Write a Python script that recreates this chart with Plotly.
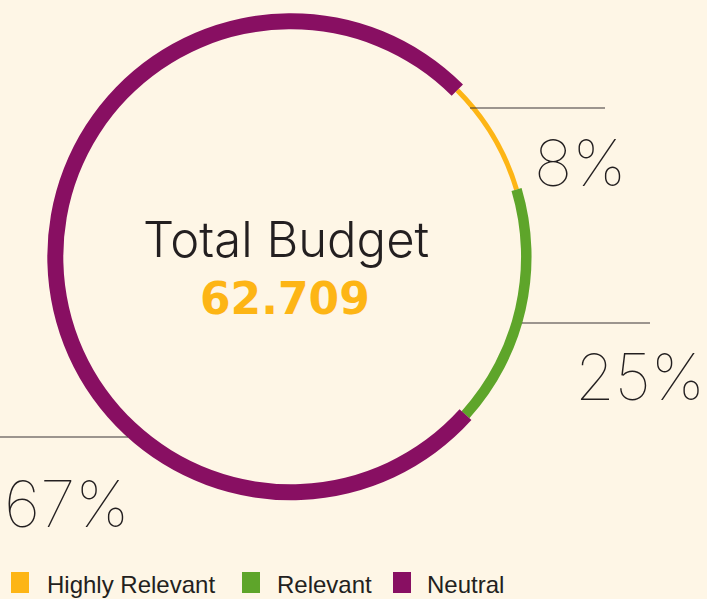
import plotly.graph_objects as go

# data
labels = ["Highly Relevant", "Relevant", "Neutral"]
pct_text = ["8%", "25%", "67%"]
# arc sizes as the ring is actually drawn (the printed percentages do not match the arcs)
arc_share = [7.9, 16.3, 75.8]
colors = ["#FDB515", "#5EA52A", "#880F62"]
total_label = "Total Budget"
total_value = "62.709"

W, H = 707, 599
BG = "#FEF6E6"
INK = "#231F20"

# ring geometry (pixels)
cx, cy, r_mid = 290.8, 256.7, 235.5
stroke = [5, 10.5, 16]


def px(x):
    return x / W


def py(y):
    return 1 - y / H


fig = go.Figure()

# one pie per segment so each arc can have its own stroke width
for k in range(len(labels)):
    r_out = r_mid + stroke[k] / 2
    r_in = r_mid - stroke[k] / 2
    seg_colors = [colors[i] if i == k else "rgba(0,0,0,0)" for i in range(len(labels))]
    fig.add_trace(go.Pie(
        labels=labels,
        values=arc_share,
        sort=False,
        direction="clockwise",
        rotation=45,
        hole=r_in / r_out,
        marker=dict(colors=seg_colors, line=dict(width=0)),
        textinfo="none",
        hoverinfo="skip",
        showlegend=False,
        domain=dict(x=[px(cx - r_out), px(cx + r_out)],
                    y=[py(cy + r_out), py(cy - r_out)]),
    ))

# leader lines and percentage labels
leaders = [(470, 605, 108), (522, 650, 323), (0, 128, 437)]
label_pos = [(532, 162, "left"), (707, 376, "right"), (2, 503, "left")]
shapes = []
annotations = []
for (x0, x1, y), (lx, ly, anchor), t in zip(leaders, label_pos, pct_text):
    shapes.append(dict(type="line", xref="paper", yref="paper",
                       x0=px(x0), x1=px(x1), y0=py(y), y1=py(y),
                       line=dict(color="#3a3536", width=1.2)))
    annotations.append(dict(text=t, x=px(lx), y=py(ly), xref="paper", yref="paper",
                            xanchor=anchor, yanchor="middle", showarrow=False,
                            font=dict(family="Inter", size=64, color=INK, weight=100)))

# centre text
annotations.append(dict(text=total_label, x=px(286), y=py(240), xref="paper", yref="paper",
                        xanchor="center", yanchor="middle", showarrow=False,
                        font=dict(family="Inter", size=49, color=INK, weight=300)))
annotations.append(dict(text=f"<b>{total_value}</b>", x=px(285), y=py(298), xref="paper", yref="paper",
                        xanchor="center", yanchor="middle", showarrow=False,
                        font=dict(family="DejaVu Sans", size=44, color=colors[0])))

# legend drawn by hand (square swatches)
swatch_x = [11, 242, 393]
text_x = [47, 277, 427]
for i, name in enumerate(labels):
    shapes.append(dict(type="rect", xref="paper", yref="paper",
                       x0=px(swatch_x[i]), x1=px(swatch_x[i] + 18),
                       y0=py(593), y1=py(572),
                       fillcolor=colors[i], line=dict(width=0)))
    annotations.append(dict(text=name, x=px(text_x[i] - 2), y=py(584), xref="paper", yref="paper",
                            xanchor="left", yanchor="middle", showarrow=False,
                            font=dict(family="Liberation Sans", size=24, color=INK)))

fig.update_layout(
    width=W, height=H,
    margin=dict(l=0, r=0, t=0, b=0),
    paper_bgcolor=BG, plot_bgcolor=BG,
    shapes=shapes,
    annotations=annotations,
)

# drop the default page margin so the figure fills the window
fig.write_html("out.html",
               config={"displayModeBar": False},
               post_script="document.body.style.margin='0';document.body.style.background='%s';" % BG)
